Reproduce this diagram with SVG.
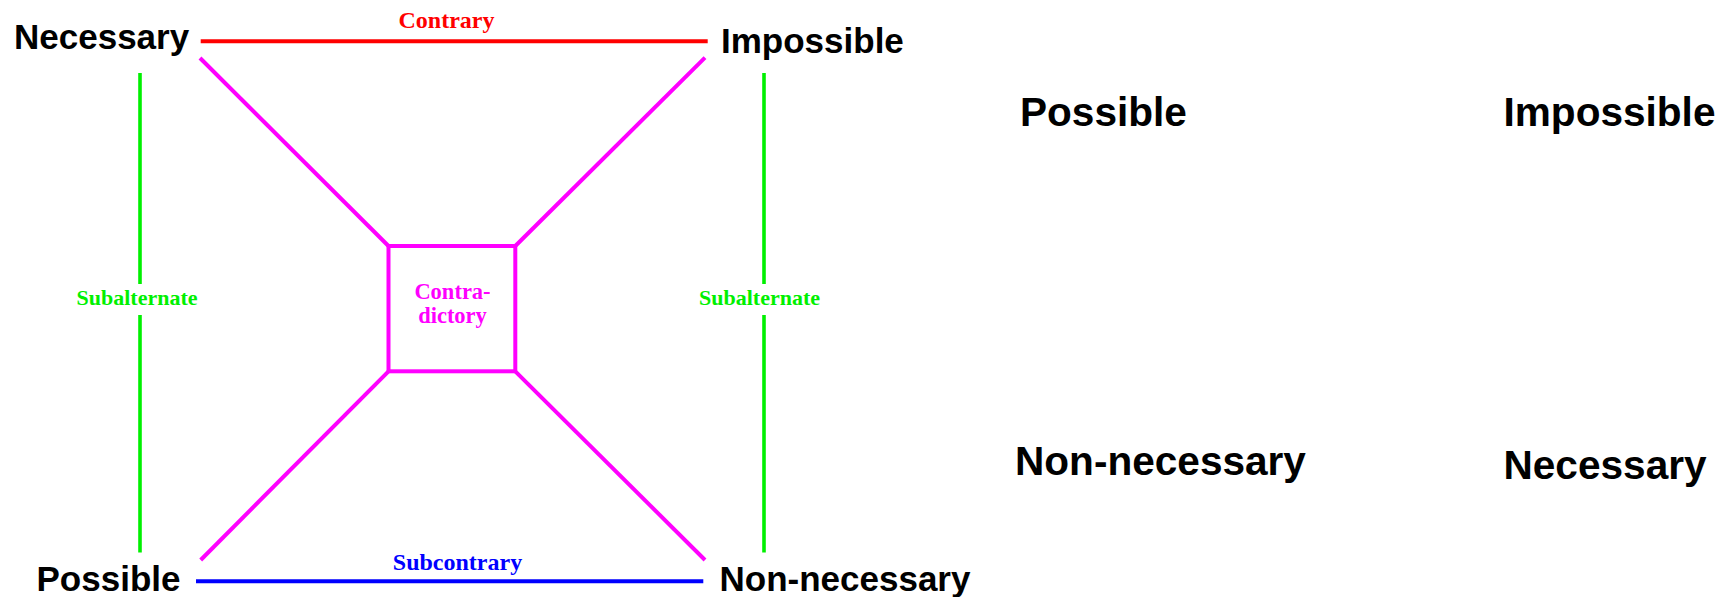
<svg xmlns="http://www.w3.org/2000/svg" width="1736" height="597" viewBox="0 0 1736 597">
<style>
.term{font-family:"Liberation Sans",Arial,sans-serif;font-weight:bold;fill:#000}
.big{font-size:35px}
.big2{font-size:40.6px}
.rel{font-family:"Liberation Serif","Times New Roman",serif;font-weight:bold;text-anchor:middle}
.ln{stroke-width:4;fill:none;stroke-linecap:butt}
.red{stroke:#ff0000}
.blue{stroke:#0000ff}
.green{stroke:#00f000;stroke-width:3.6}
.mag{stroke:#ff00ff}
</style>
<rect width="1736" height="597" fill="#fff"/>
<g id="connectors">
<line class="ln red" x1="200.7" y1="41.3" x2="707.7" y2="41.3"/>
<line class="ln blue" x1="196" y1="581.3" x2="703.3" y2="581.3"/>
<line class="ln green" x1="140" y1="73" x2="140" y2="284"/>
<line class="ln green" x1="140" y1="315" x2="140" y2="552.5"/>
<line class="ln green" x1="764" y1="73" x2="764" y2="284"/>
<line class="ln green" x1="764" y1="315" x2="764" y2="552.5"/>
<line class="ln mag" x1="200" y1="58" x2="388.5" y2="246"/>
<line class="ln mag" x1="705" y1="57.7" x2="515.3" y2="246"/>
<line class="ln mag" x1="388.5" y1="371.3" x2="200.7" y2="560"/>
<line class="ln mag" x1="515.3" y1="371.3" x2="705" y2="560"/>
<text class="rel" x="446.5" y="28" font-size="24" fill="#ff0000">Contrary</text>
<text class="rel" x="457.5" y="570" font-size="24" fill="#0000ff">Subcontrary</text>
<text class="rel" x="137" y="305" font-size="22" fill="#00f000">Subalternate</text>
<text class="rel" x="759.5" y="305" font-size="22" fill="#00f000">Subalternate</text>
</g>
<g id="contradictory">
<rect class="ln mag" x="388.5" y="246" width="126.8" height="125.3"/>
<text class="rel" x="452.5" y="299" font-size="22.5" fill="#ff00ff">Contra-</text>
<text class="rel" x="452.5" y="322.5" font-size="22.5" fill="#ff00ff">dictory</text>
</g>
<g id="necessary"><text class="term big" x="14" y="48.5">Necessary</text></g>
<g id="impossible"><text class="term big" x="721" y="53">Impossible</text></g>
<g id="possible"><text class="term big" x="36.5" y="590.5">Possible</text></g>
<g id="non-necessary"><text class="term big" x="719.5" y="590.7">Non-necessary</text></g>
<g id="r-possible"><text class="term big2" x="1020" y="126">Possible</text></g>
<g id="r-impossible"><text class="term big2" x="1503.5" y="126">Impossible</text></g>
<g id="r-non-necessary"><text class="term big2" x="1015" y="475">Non-necessary</text></g>
<g id="r-necessary"><text class="term big2" x="1503.5" y="479.3">Necessary</text></g>
</svg>
